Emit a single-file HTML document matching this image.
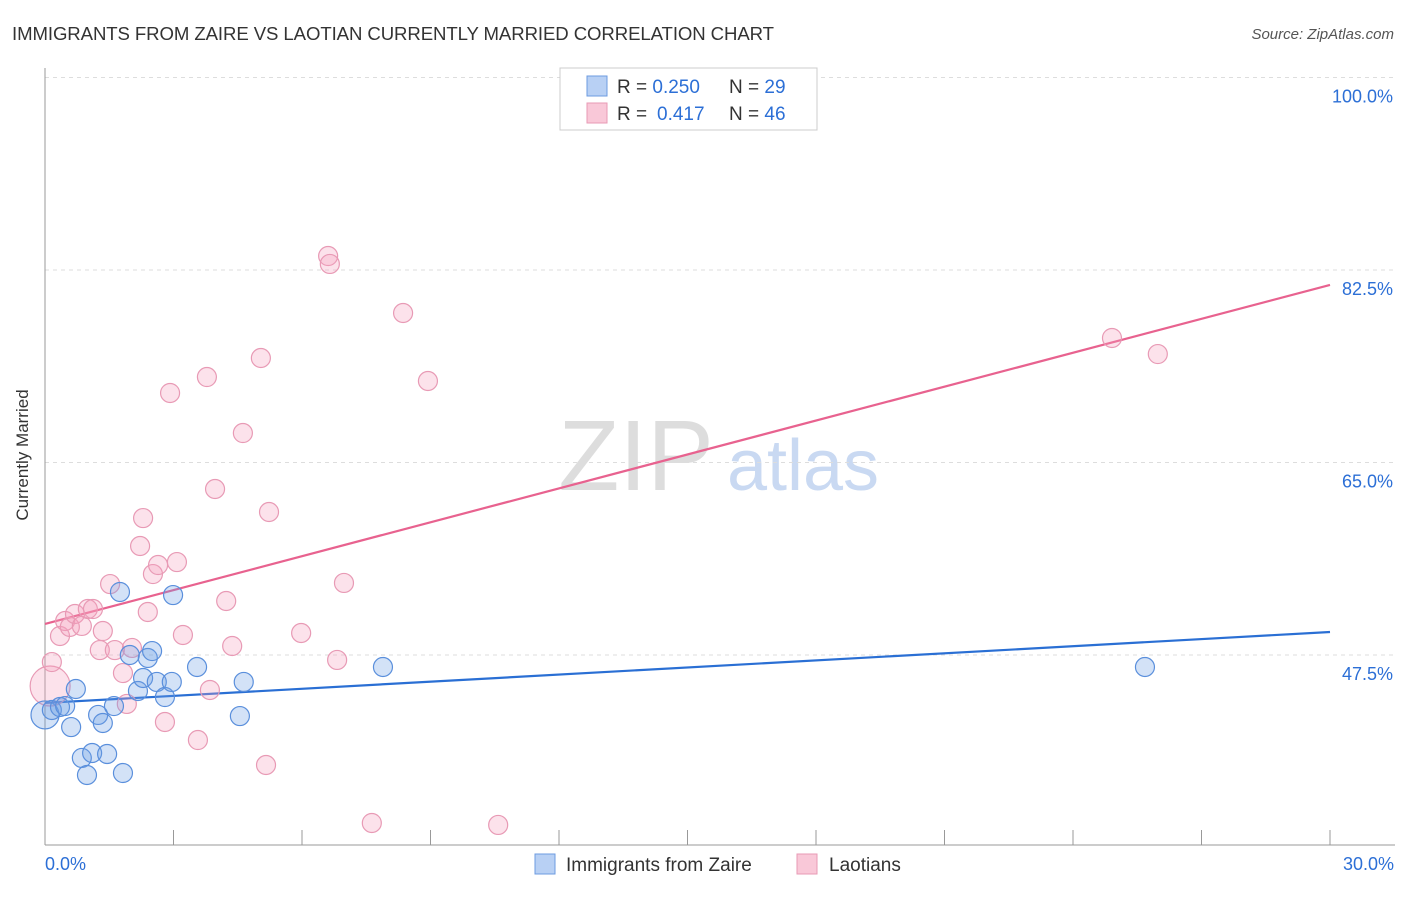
<!DOCTYPE html>
<html><head><meta charset="utf-8"><style>
body{margin:0;background:#fff;font-family:"Liberation Sans",sans-serif}
svg text{font-family:"Liberation Sans",sans-serif}
</style></head><body>
<svg id="chart" width="1406" height="892">
<text x="12" y="40" font-size="18.6" fill="#333" textLength="762">IMMIGRANTS FROM ZAIRE VS LAOTIAN CURRENTLY MARRIED CORRELATION CHART</text>
<text x="1394" y="39" font-size="15" fill="#555" font-style="italic" text-anchor="end">Source: ZipAtlas.com</text>
<text x="28" y="455" font-size="17" fill="#333" text-anchor="middle" transform="rotate(-90 28 455)">Currently Married</text>
<g><text x="636" y="490" font-size="100" fill="#ddd" font-family="Liberation Serif" text-anchor="middle">ZIP</text><text x="803" y="490" font-size="72" fill="#c9d9f2" text-anchor="middle">atlas</text></g>
<g id="grid"></g><g id="axes"></g><g id="lines"></g><g id="pts"></g>
<g>
<rect x="560" y="68" width="257" height="62" fill="#fff" stroke="#ccc"/>
<rect x="587" y="76" width="20" height="20" fill="#b8d0f4" stroke="#6d9be0"/>
<rect x="587" y="103" width="20" height="20" fill="#f9c8d8" stroke="#e89ab5"/>
<text x="617" y="93" font-size="19" fill="#333">R = <tspan fill="#2c6fd6">0.250</tspan><tspan x="729">N = </tspan><tspan fill="#2c6fd6">29</tspan></text>
<text x="617" y="120" font-size="19" fill="#333">R = <tspan fill="#2c6fd6" x="657">0.417</tspan><tspan x="729">N = </tspan><tspan fill="#2c6fd6">46</tspan></text>
</g>
<g>
<rect x="535" y="854" width="20" height="20" fill="#b8d0f4" stroke="#6d9be0"/>
<text x="566" y="871" font-size="19" fill="#333">Immigrants from Zaire</text>
<rect x="797" y="854" width="20" height="20" fill="#f9c8d8" stroke="#e89ab5"/>
<text x="829" y="871" font-size="19" fill="#333">Laotians</text>
</g>
</svg>
<script>
const yTicks=[47.5,65,82.5,100];
const yTickLabels=["47.5%","65.0%","82.5%","100.0%"];
const xTickLabels=["0.0%","30.0%"];
const blueX=[0,0.16,0.35,0.47,0.72,0.61,1.24,1.35,1.75,0.86,0.98,1.10,1.45,1.82,1.61,1.98,2.17,2.29,2.40,2.50,2.61,2.80,2.96,2.99,3.55,4.55,4.64,7.89,25.68];
const blueY=[42.05,42.5,42.77,42.86,44.41,40.95,42.05,41.32,53.23,38.14,36.59,38.59,38.5,36.77,42.86,47.5,44.23,45.41,47.23,47.86,45.05,43.68,45.05,52.95,46.41,41.95,45.05,46.41,46.41];
const pinkX=[0.12,0.16,0.35,0.47,0.58,0.70,0.86,1.00,1.12,1.28,1.35,1.52,1.63,1.82,1.91,2.03,2.22,2.29,2.40,2.52,2.64,2.80,2.92,3.08,3.22,3.57,3.78,3.85,3.97,4.23,4.37,4.62,5.04,5.16,5.23,5.98,6.61,6.65,6.82,6.98,7.63,8.36,8.94,10.58,24.91,25.98];
const pinkY=[44.68,46.86,49.23,50.59,50.05,51.23,50.14,51.68,51.68,47.95,49.68,53.95,47.95,45.86,43.05,48.14,57.41,59.95,51.41,54.86,55.68,41.41,71.32,55.95,49.32,39.77,72.77,44.32,62.59,52.41,48.32,67.68,74.5,37.5,60.5,49.5,83.77,83.05,47.05,54.05,32.23,78.59,72.41,32.05,76.32,74.86];
const blueLine=[43.14,49.59];
const pinkLine=[50.32,81.14];
const NS="http://www.w3.org/2000/svg";
const X=v=>45+v/30*1285;
const Y=v=>655-(v-47.5)*11;
function mk(t,a,p){const e=document.createElementNS(NS,t);for(const k in a)e.setAttribute(k,a[k]);document.getElementById(p).appendChild(e);return e;}
yTicks.forEach((t,i)=>{
 const l=mk('line',{x1:45,x2:1395,y1:Y(t),y2:Y(t),stroke:'#ddd','stroke-dasharray':'4 4'},'grid');
 
 
 const tx=mk('text',{x:1393,y:Y(t)+25,'font-size':18,fill:'#2c6fd6','text-anchor':'end'},'grid');
 tx.textContent=yTickLabels[i];
 
 
});
let a=mk('line',{x1:45,x2:45,y1:68,y2:845,stroke:'#999'},'axes');


a=mk('line',{x1:45,x2:1395,y1:845,y2:845,stroke:'#999'},'axes');


for(let i=0;i<=10;i++){const t=mk('line',{x1:X(i*3),x2:X(i*3),y1:830,y2:845,stroke:'#999'},'axes');
 
 }
[[0,'start'],[30,'end']].forEach((d,i)=>{const t=mk('text',{x:X(d[0])+(i?64:0),y:870,'font-size':18,fill:'#2c6fd6','text-anchor':d[1]},'axes');t.textContent=xTickLabels[i];
 
 });
function dots(xs,ys,fill,stroke,name){xs.forEach((x,i)=>{const r=(i===0)?(name==='pink-point'?20:14):9.5;
 const c=mk('circle',{cx:X(x),cy:Y(ys[i]),r:r,fill:fill,stroke:stroke,'stroke-width':1.2},'pts');
 
 });}
dots(pinkX,pinkY,'rgba(244,160,190,0.3)','#e89ab5','pink-point');
dots(blueX,blueY,'rgba(110,160,230,0.3)','#5a8fdc','blue-point');
let ln=mk('line',{x1:X(0),x2:X(30),y1:Y(pinkLine[0]),y2:Y(pinkLine[1]),stroke:'#e8628f','stroke-width':2.2},'lines');


ln=mk('line',{x1:X(0),x2:X(30),y1:Y(blueLine[0]),y2:Y(blueLine[1]),stroke:'#2a6fd4','stroke-width':2.2},'lines');


</script>
</body></html>
